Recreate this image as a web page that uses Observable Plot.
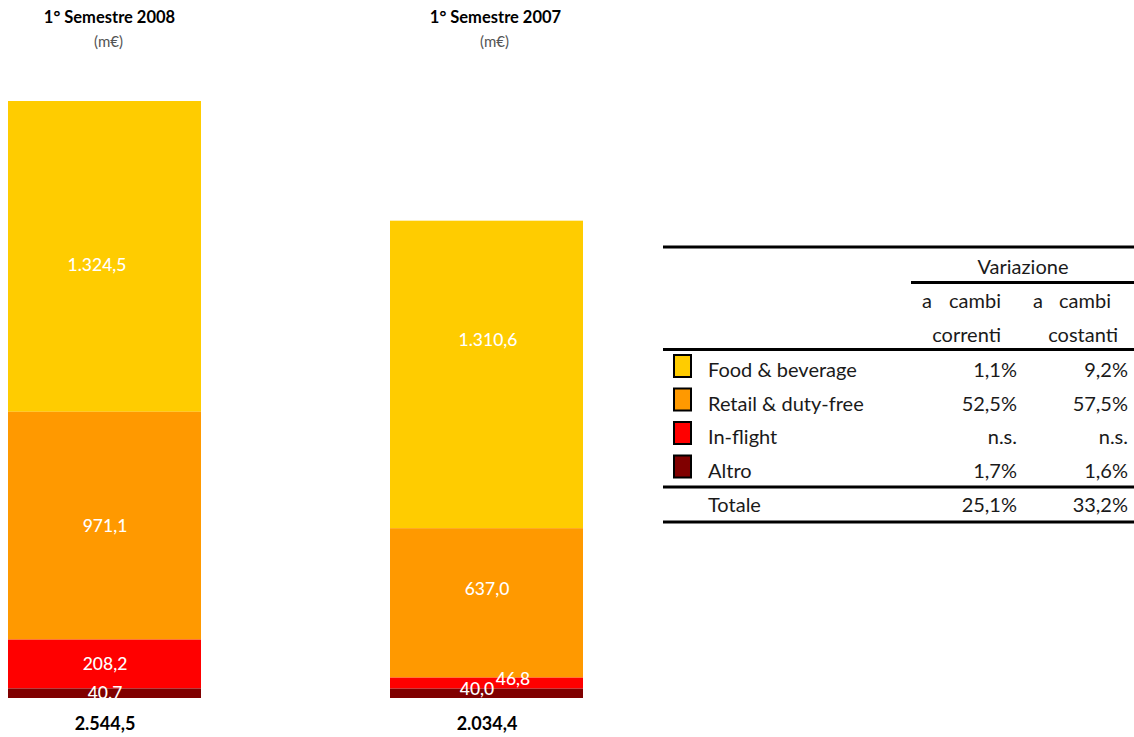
<!DOCTYPE html>
<html><head><meta charset="utf-8">
<script src="https://cdn.jsdelivr.net/npm/d3@7"></script>
<script src="https://cdn.jsdelivr.net/npm/@observablehq/plot@0.6"></script>
<style>
html,body{margin:0;padding:0;background:#fff;}
#wrap{position:relative;width:1134px;height:737px;overflow:hidden;font-family:Lato,sans-serif;}
#chart{position:absolute;left:0;top:0;}
#table{position:absolute;left:0;top:0;pointer-events:none;}
</style></head>
<body><div id="wrap"><div id="chart"></div><svg id="table" width="1134" height="737"></svg></div>
<script>
// ---- data ----
const semesters = ["1° Semestre 2008", "1° Semestre 2007"];
const unitLabel = "(m€)";
const categories = ["Food & beverage", "Retail & duty-free", "In-flight", "Altro"];
const values2008 = [1324.5, 971.1, 208.2, 40.7];
const values2007 = [1310.6, 637.0, 46.8, 40.0];
const valueLabels2008 = ["1.324,5", "971,1", "208,2", "40.7"];
const valueLabels2007 = ["1.310,6", "637,0", "46,8", "40,0"];
const totals = [2544.5, 2034.4];
const totalLabels = ["2.544,5", "2.034,4"];
const tableHeader = "Variazione";
const colHeaders = [["a", "cambi", "correnti"], ["a", "cambi", "costanti"]];
const changeCurrent = ["1,1%", "52,5%", "n.s.", "1,7%"];
const changeConstant = ["9,2%", "57,5%", "n.s.", "1,6%"];
const totalRowLabel = "Totale";
const totalChange = ["25,1%", "33,2%"];

// ---- styling ----
const colors = ["#FFCC00", "#FF9900", "#FF0000", "#800000"];
const FONT = "Lato, sans-serif";
// label nudges [dx, dy] per semester index, category index
const nudges = [
  [[-8, 9], [0, 0], [0, 0], [0, 0]],
  [[1, -35], [0, -14], [26, -4], [-10, -4]]
];
const titleDx = [4.5, 8.5];

const rows = [];
[values2008, values2007].forEach((vals, s) => vals.forEach((v, c) => rows.push({
  s, c, semester: semesters[s], category: categories[c], value: v,
  label: (s === 0 ? valueLabels2008 : valueLabels2007)[c]
})));

const order = [...categories].reverse();
const stackOpts = {x: "semester", y: "value", z: "category", order};

const labelMarks = rows.map(r => Plot.text(rows, Plot.filter(d => d === r, Plot.stackY({
  ...stackOpts, text: "label", fill: "white", fontSize: 17.5, fontWeight: 500,
  dx: nudges[r.s][r.c][0], dy: nudges[r.s][r.c][1]
}))));

const titleMarks = semesters.map((s, i) => Plot.text([s], {
  x: d => d, text: d => d, frameAnchor: "top", lineAnchor: "middle", dy: -84, dx: titleDx[i],
  fontSize: 16.5, fontWeight: "bold", fill: "#000"
}));
const unitMarks = semesters.map((s, i) => Plot.text([s], {
  x: d => d, text: () => unitLabel, frameAnchor: "top", lineAnchor: "middle", dy: -59, dx: titleDx[i] - 1,
  fontSize: 15, fill: "#555"
}));

const chart = Plot.plot({
  width: 600, height: 737,
  marginTop: 101, marginBottom: 39, marginLeft: 7, marginRight: 17,
  style: {fontFamily: FONT, background: "transparent", overflow: "visible"},
  x: {domain: semesters, paddingInner: 0.496, paddingOuter: 0, axis: null},
  y: {domain: [0, d3.max(totals)], axis: null},
  color: {domain: categories, range: colors},
  marks: [
    Plot.barY(rows, Plot.stackY({...stackOpts, fill: "category"})),
    ...labelMarks,
    ...titleMarks,
    ...unitMarks,
    Plot.text(semesters, {x: d => d, text: (d, i) => totalLabels[i], frameAnchor: "bottom", lineAnchor: "middle", dy: 26,
      fontSize: 18, fontWeight: "bold", fill: "#000"})
  ]
});
document.getElementById("chart").appendChild(chart);

// ---- table / legend ----
const swatch = chart.scale("color");
const svg = d3.select("#table").style("font-family", FONT);
const ink = "#1a1a1a";
const fs = 20;
const hline = (y, x1, x2) => svg.append("line").attr("x1", x1).attr("x2", x2).attr("y1", y).attr("y2", y)
  .attr("stroke", "#000").attr("stroke-width", 2.8);
const txt = (t, x, y, anchor) => svg.append("text").attr("x", x).attr("y", y).attr("text-anchor", anchor || "start")
  .attr("fill", ink).attr("font-size", fs).text(t);

hline(247, 663, 1134);
txt(tableHeader, 1023, 274, "middle");
hline(282.5, 911, 1134);
const colLeft = [922, 1033], colRight = [1001, 1111], col2Right = [1001, 1118];
colHeaders.forEach((h, j) => {
  txt(h[0], colLeft[j], 308, "start");
  txt(h[1], colRight[j], 308, "end");
  txt(h[2], col2Right[j], 342, "end");
});
hline(349.5, 663, 1134);
const valRight = [1017, 1128];
categories.forEach((cat, i) => {
  const base = 377 + i * 33.7;
  svg.append("rect").attr("x", 674).attr("y", 355 + i * 33.5).attr("width", 17).attr("height", 22)
    .attr("fill", swatch.range[swatch.domain.indexOf(cat)]).attr("stroke", "#000").attr("stroke-width", 2);
  txt(cat, 708, base);
  txt(changeCurrent[i], valRight[0], base, "end");
  txt(changeConstant[i], valRight[1], base, "end");
});
hline(487, 663, 1134);
txt(totalRowLabel, 708, 512);
txt(totalChange[0], valRight[0], 512, "end");
txt(totalChange[1], valRight[1], 512, "end");
hline(522, 663, 1134);
</script>
</body></html>
